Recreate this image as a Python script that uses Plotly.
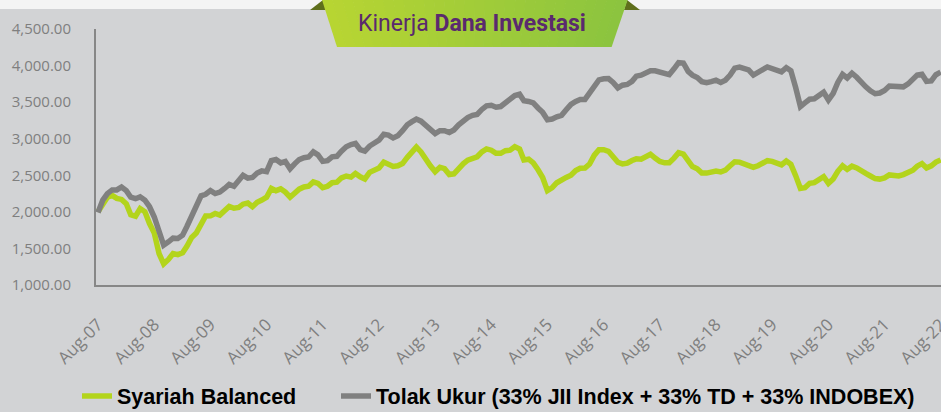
import pandas as pd
import plotly.graph_objects as go

# monthly index values, Aug-07 .. Aug-22
months = pd.date_range("2007-08-01", "2022-08-01", freq="MS")

syariah_balanced = [
    2000, 2120, 2200, 2225, 2185, 2170, 2110, 1960, 1940, 2045, 2000, 1840,
    1710, 1430, 1290, 1350, 1430, 1415, 1440, 1530, 1650, 1710, 1820, 1943,
    1945, 1978, 1956, 2010, 2075, 2050, 2060, 2105, 2120, 2070, 2130, 2161,
    2200, 2320, 2290, 2315, 2270, 2200, 2261, 2310, 2340, 2350, 2410, 2390,
    2330, 2350, 2398, 2405, 2465, 2490, 2475, 2526, 2480, 2450, 2540, 2571,
    2600, 2680, 2660, 2620, 2630, 2660, 2745, 2820, 2885, 2820, 2710, 2630,
    2548, 2610, 2590, 2510, 2520, 2600, 2660, 2708, 2740, 2753, 2820, 2860,
    2843, 2800, 2800, 2836, 2843, 2890, 2860, 2710, 2720, 2670, 2575, 2470,
    2290, 2330, 2398, 2440, 2471, 2500, 2565, 2596, 2600, 2655, 2776, 2850,
    2850, 2828, 2740, 2678, 2655, 2665, 2702, 2725, 2720, 2750, 2788, 2735,
    2690, 2671, 2671, 2735, 2810, 2790, 2690, 2620, 2590, 2530, 2530, 2550,
    2558, 2545, 2570, 2630, 2685, 2680, 2653, 2645, 2610, 2630, 2675, 2700,
    2690, 2665, 2642, 2695, 2650, 2495, 2320, 2330, 2390, 2400, 2445, 2480,
    2390, 2450, 2555, 2630, 2580, 2625, 2600, 2555, 2525, 2490, 2455, 2448,
    2465, 2505, 2500, 2492, 2510, 2535, 2570, 2625, 2660, 2600, 2630, 2680,
    2710,
]

tolak_ukur = [
    1990, 2160, 2250, 2300, 2300, 2340, 2290, 2200, 2180, 2205, 2160, 2070,
    1930, 1700, 1545, 1590, 1640, 1635, 1680, 1800, 1930, 2050, 2220, 2240,
    2290, 2250, 2270, 2320, 2375, 2350, 2420, 2500, 2460, 2470, 2530, 2560,
    2550, 2700, 2715, 2670, 2690, 2590, 2660, 2715, 2740, 2750, 2820, 2780,
    2690, 2700, 2753, 2760, 2830, 2890, 2920, 2935, 2850, 2830, 2900, 2940,
    2980, 3060, 3050, 3010, 3040, 3110, 3190, 3230, 3268, 3240, 3185, 3130,
    3070, 3110, 3110, 3085, 3120, 3190, 3255, 3290, 3320, 3332, 3400, 3450,
    3457, 3430, 3440, 3490, 3530, 3590, 3609, 3520, 3510, 3490, 3420, 3360,
    3260, 3270, 3300, 3320, 3395, 3470, 3510, 3537, 3537, 3630, 3725, 3805,
    3820, 3823, 3770, 3695, 3732, 3742, 3785, 3855, 3869, 3900, 3928, 3928,
    3910, 3895, 3875, 3955, 4040, 4035, 3920, 3870, 3837, 3780, 3765, 3780,
    3800, 3770, 3800, 3870, 3965, 3980, 3960, 3940, 3870, 3900, 3945, 3982,
    3960, 3946, 3915, 3970, 3930, 3700, 3440, 3490, 3540, 3545, 3590, 3635,
    3530, 3620, 3770, 3880, 3830, 3895, 3840, 3770, 3710, 3655, 3615, 3625,
    3660, 3720, 3720, 3709, 3709, 3750, 3820, 3870, 3880, 3785, 3790, 3875,
    3910,
]

series_names = ["Syariah Balanced", "Tolak Ukur (33% JII Index + 33% TD + 33% INDOBEX)"]
series_colors = ["#b3d41c", "#808080"]

W, H = 941, 412
L, R, T, B = 96, 0, 29, 127
BG = "#d2d3d5"


def px_to_paper(x, y):
    return (x - L) / (W - L - R), (H - B - y) / (H - T - B)


def path_from_px(points):
    pts = [px_to_paper(x, y) for x, y in points]
    return "M " + " L ".join(f"{x:.4f},{y:.4f}" for x, y in pts) + " Z"


def mix(c1, c2, t):
    a = [int(c1[i:i + 2], 16) for i in (1, 3, 5)]
    b = [int(c2[i:i + 2], 16) for i in (1, 3, 5)]
    return "#" + "".join(f"{round(x + (y - x) * t):02x}" for x, y in zip(a, b))


fig = go.Figure()
for i, (name, values, color) in enumerate(zip(series_names, [syariah_balanced, tolak_ukur], series_colors)):
    fig.add_trace(go.Scatter(x=months, y=values, name=name, mode="lines",
                             line=dict(color=color, width=5.5),
                             legend="legend" if i == 0 else "legend2"))

shapes = [
    # white strip at top
    dict(type="rect", xref="paper", yref="paper",
         x0=px_to_paper(0, 0)[0], x1=px_to_paper(W, 0)[0],
         y0=px_to_paper(0, 9)[1], y1=px_to_paper(0, 0)[1],
         fillcolor="#f4f4f4", line_width=0, layer="below"),
    # folded ears of the title ribbon
    dict(type="path", xref="paper", yref="paper",
         path=path_from_px([(310, 10), (323, 0), (326, 10)]),
         fillcolor="#5f6f1c", line_width=0),
    dict(type="path", xref="paper", yref="paper",
         path=path_from_px([(624, 10), (627, 0), (640, 10)]),
         fillcolor="#5f6f1c", line_width=0),
]

# ribbon with a left-to-right gradient, drawn as thin slices
x_tl, x_tr, x_bl, x_br, rib_h = 322, 627, 337, 611, 47
n = 30
for k in range(n):
    t0, t1 = k / n, (k + 1) / n
    top0, top1 = x_tl + (x_tr - x_tl) * t0, x_tl + (x_tr - x_tl) * t1
    bot0, bot1 = x_bl + (x_br - x_bl) * t0, x_bl + (x_br - x_bl) * t1
    shapes.append(dict(type="path", xref="paper", yref="paper",
                       path=path_from_px([(top0, 0), (top1 + 0.6, 0), (bot1 + 0.6, rib_h), (bot0, rib_h)]),
                       fillcolor=mix("#b8d532", "#8bc43f", (k + 0.5) / n), line_width=0))

tx, ty = px_to_paper(472, 23)
fig.add_annotation(
    x=tx, y=ty, xref="paper", yref="paper", showarrow=False, yanchor="middle", xanchor="center",
    text="Kinerja <b>Dana Investasi</b>",
    font=dict(family="Roboto", size=23, color="#5a2a6e"),
)

legend_font = dict(family="Arial", size=21.5, color="#000000", weight="bold")
l1x, l1y = px_to_paper(77, 396)
l2x, l2y = px_to_paper(336, 396)
fig.update_layout(
    width=W, height=H,
    # keep the legends from pushing the plot area around
    margin=dict(l=L, r=R, t=T, b=B, autoexpand=False),
    paper_bgcolor=BG, plot_bgcolor=BG,
    shapes=shapes,
    showlegend=True,
    legend=dict(orientation="h", x=l1x, y=l1y, xanchor="left", yanchor="middle",
                font=legend_font, bgcolor="rgba(0,0,0,0)"),
    legend2=dict(orientation="h", x=l2x, y=l2y, xanchor="left", yanchor="middle",
                 font=legend_font, bgcolor="rgba(0,0,0,0)"),
    xaxis=dict(
        type="date", range=["2007-07-19", "2022-08-03"],
        tick0="2007-08-01", dtick="M12", tickformat="%b-%y", tickangle=-45,
        showgrid=False, zeroline=False, showline=True, linecolor="#878787", linewidth=2,
        tickfont=dict(family="Open Sans", size=17, color="#7f7f7f"),
        ticklabelstandoff=21, ticklabeloverflow="allow", automargin=False,
    ),
    yaxis=dict(
        range=[1000, 4500], dtick=500, tickformat=",.2f",
        showgrid=False, zeroline=False, showline=True, linecolor="#878787", linewidth=2,
        tickfont=dict(family="Open Sans", size=15, color="#7f7f7f"),
        ticklabelstandoff=20, automargin=False,
    ),
)

# page body has a default margin; drop it so the figure fills the window
fig.write_html("out.html", config={"displayModeBar": False},
               post_script="document.body.style.margin='0';")
